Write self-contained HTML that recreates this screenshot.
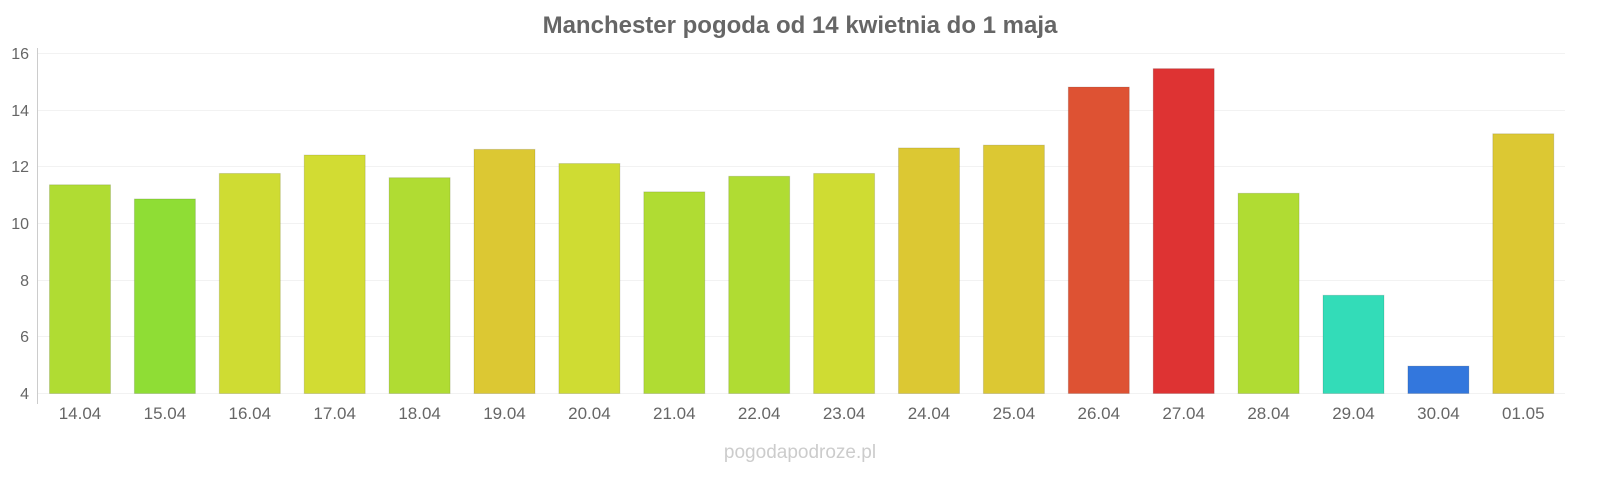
<!DOCTYPE html>
<html><head><meta charset="utf-8"><style>
html,body{margin:0;padding:0;background:#fff;overflow:hidden;width:1600px;height:480px;}
svg{display:block;}
svg text{font-family:"Liberation Sans",sans-serif;}
</style></head><body>
<svg width="1600" height="480" viewBox="0 0 1600 480" xmlns="http://www.w3.org/2000/svg">
<text x="800" y="33" text-anchor="middle" font-size="24" font-weight="bold" fill="#666">Manchester pogoda od 14 kwietnia do 1 maja</text>
<g stroke="#f2f2f2" stroke-width="1">
<line x1="38" x2="1565" y1="53.5" y2="53.5"/><line x1="38" x2="1565" y1="110.5" y2="110.5"/><line x1="38" x2="1565" y1="166.5" y2="166.5"/><line x1="38" x2="1565" y1="223.5" y2="223.5"/><line x1="38" x2="1565" y1="280.5" y2="280.5"/><line x1="38" x2="1565" y1="336.5" y2="336.5"/><line x1="38" x2="1565" y1="393.5" y2="393.5"/>
</g>
<line x1="37.5" x2="37.5" y1="48" y2="404" stroke="#ccc"/>
<g font-size="16" fill="#666" text-anchor="end">
<text x="29" y="59">16</text><text x="29" y="116">14</text><text x="29" y="172">12</text><text x="29" y="229">10</text><text x="29" y="286">8</text><text x="29" y="342">6</text><text x="29" y="399">4</text>
</g>
<g id="bars"></g>
<g id="labels" font-size="17" fill="#666" text-anchor="middle"></g>
<text x="800" y="458" text-anchor="middle" font-size="19" fill="#ccc">pogodapodroze.pl</text>
</svg>
<script>
var v=[11.35,10.85,11.75,12.4,11.6,12.6,12.1,11.1,11.65,11.75,12.65,12.75,14.8,15.45,11.05,7.45,4.95,13.15];
var c=["#b0dc33","#8fdd35","#cfdc33","#d2dc33","#b0dc33","#dcc833","#cfdc33","#b0dc33","#b0dc33","#cfdc33","#dcc833","#dcc833","#de5233","#de3333","#b0dc33","#33dcb8","#3377dd","#dcc833"];
var l=["14.04","15.04","16.04","17.04","18.04","19.04","20.04","21.04","22.04","23.04","24.04","25.04","26.04","27.04","28.04","29.04","30.04","01.05"];
var b="",t="";
for(var i=0;i<18;i++){var x=49.5+i*84.9,y=393-(v[i]-4)*28.33;
b+='<rect x="'+x+'" y="'+y+'" width="61" height="'+(393.5-y)+'" fill="'+c[i]+'" stroke="rgba(0,0,0,0.12)" stroke-width="1"/>';
t+='<text x="'+(x+30.5)+'" y="419">'+l[i]+'</text>';}
document.getElementById("bars").innerHTML=b;document.getElementById("labels").innerHTML=t;
</script>
</body></html>
